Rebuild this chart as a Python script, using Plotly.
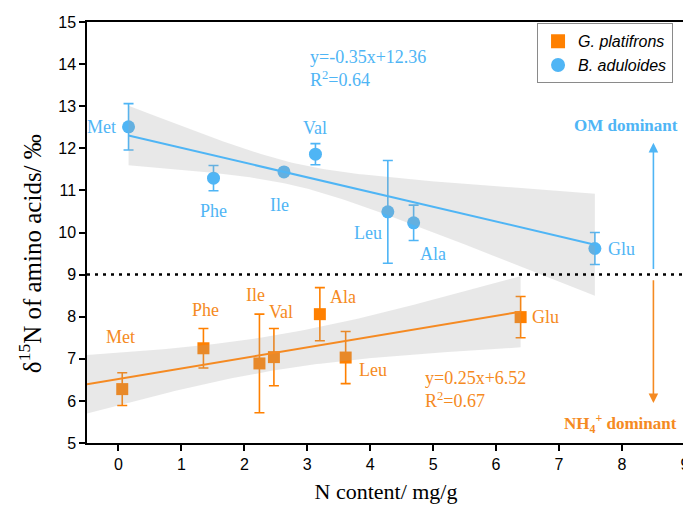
import numpy as np
import plotly.graph_objects as go

# ---------------- data ----------------
amino = ["Met", "Phe", "Ile", "Val", "Leu", "Ala", "Glu"]

# B. aduloides
ba_x = [0.16, 1.51, 2.63, 3.13, 4.28, 4.69, 7.57]
ba_y = [12.51, 11.29, 11.44, 11.86, 10.49, 10.23, 9.62]
ba_err = [0.55, 0.30, 0.08, 0.25, 1.22, 0.42, 0.38]
ba_slope, ba_icpt = -0.35, 12.36
ba_eq = "y=-0.35x+12.36<br>R<sup>2</sup>=0.64"

# G. platifrons
gp_x = [0.06, 1.35, 2.24, 2.47, 3.61, 3.20, 6.39]
gp_y = [6.28, 7.25, 6.89, 7.04, 7.03, 8.06, 7.99]
gp_err = [0.39, 0.47, 1.17, 0.68, 0.62, 0.63, 0.49]
gp_slope, gp_icpt = 0.25, 6.52
gp_eq = "y=0.25x+6.52<br>R<sup>2</sup>=0.67"

x_ticks = list(range(0, 10))
y_ticks = list(range(5, 16))

# ---------------- styles ----------------
BLUE = "#4FB5F5"
ORANGE = "#FF8000"
ORANGE_T = "#F58A22"
SERIF = "Liberation Serif"
SANS = "Liberation Sans"
BAND = "rgba(165,165,165,0.25)"

# label pixel offsets (dx, dy up)
ba_off = {"Met": (-27, 0), "Phe": (0, -33), "Ile": (-4, -33), "Val": (0, 26),
          "Leu": (-20, -21), "Ala": (19, -31), "Glu": (27, 0)}
gp_off = {"Met": (-2, 52), "Phe": (2, 38), "Ile": (-4, 68), "Val": (7, 45),
          "Leu": (27, -12), "Ala": (23, 17), "Glu": (25, 0)}


def conf_band(x, y, err, slope, icpt, xs, t=2.5706):
    x = np.asarray(x, float)
    y = np.asarray(y, float)
    w = 1.0 / np.asarray(err, float) ** 2
    xw = (w * x).sum() / w.sum()
    sxx = (w * (x - xw) ** 2).sum()
    r = y - (slope * x + icpt)
    s2 = (w * r ** 2).sum() / (len(x) - 2)
    hw = t * np.sqrt(s2 * (1.0 / w.sum() + (xs - xw) ** 2 / sxx))
    yc = slope * xs + icpt
    return yc, yc - hw, yc + hw


fig = go.Figure()

series = [
    ("G. platifrons", gp_x, gp_y, gp_err, gp_slope, gp_icpt, ORANGE, "square", 12,
     (-0.5, max(gp_x))),
    ("B. aduloides", ba_x, ba_y, ba_err, ba_slope, ba_icpt, BLUE, "circle", 13,
     (min(ba_x), max(ba_x))),
]

# markers with error bars
for name, xs_, ys_, es_, sl, ic, col, sym, sz, rng in series:
    fig.add_trace(go.Scatter(
        x=xs_, y=ys_, mode="markers", showlegend=False,
        marker=dict(color=col, symbol=sym, size=sz, line=dict(width=0)),
        error_y=dict(type="data", array=es_, visible=True, color=col,
                     thickness=1.6, width=5)))

# confidence bands (on top of markers, semi-transparent)
for name, xs_, ys_, es_, sl, ic, col, sym, sz, rng in series:
    xg = np.linspace(rng[0], rng[1], 120)
    yc, lo, hi = conf_band(xs_, ys_, es_, sl, ic, xg)
    fig.add_trace(go.Scatter(
        x=np.concatenate([xg, xg[::-1]]), y=np.concatenate([lo, hi[::-1]]),
        fill="toself", fillcolor=BAND, line=dict(width=0), mode="lines",
        hoverinfo="skip", showlegend=False))

# fit lines
for name, xs_, ys_, es_, sl, ic, col, sym, sz, rng in series:
    xl = np.array(rng)
    fig.add_trace(go.Scatter(
        x=xl, y=sl * xl + ic, mode="lines", showlegend=False,
        line=dict(color=col if col == BLUE else ORANGE_T, width=2)))

# legend entries
for name, xs_, ys_, es_, sl, ic, col, sym, sz, rng in series:
    fig.add_trace(go.Scatter(
        x=[None], y=[None], mode="markers", name=f"<i>{name}</i>",
        marker=dict(color=col, symbol=sym, size=14)))

ann = []
for lab, xv, yv in zip(amino, ba_x, ba_y):
    dx, dy = ba_off[lab]
    ann.append(dict(x=xv, y=yv, text=lab, showarrow=False, xshift=dx, yshift=dy,
                    font=dict(family=SERIF, size=18, color=BLUE)))
for lab, xv, yv in zip(amino, gp_x, gp_y):
    dx, dy = gp_off[lab]
    ann.append(dict(x=xv, y=yv, text=lab, showarrow=False, xshift=dx, yshift=dy,
                    font=dict(family=SERIF, size=18, color=ORANGE_T)))

ann.append(dict(x=3.01, y=13.9, text=ba_eq, showarrow=False, xanchor="left",
                align="left", font=dict(family=SERIF, size=18, color=BLUE)))
ann.append(dict(x=4.84, y=6.26, text=gp_eq, showarrow=False, xanchor="left",
                align="left", font=dict(family=SERIF, size=18, color=ORANGE_T)))

# dominance arrows and texts
ann.append(dict(x=8.5, y=12.13, ax=8.5, ay=9.1, axref="x", ayref="y",
                showarrow=True, arrowhead=2, arrowsize=1.2, arrowwidth=1.6,
                arrowcolor=BLUE, text=""))
ann.append(dict(x=8.5, y=5.95, ax=8.5, ay=8.9, axref="x", ayref="y",
                showarrow=True, arrowhead=2, arrowsize=1.2, arrowwidth=1.6,
                arrowcolor=ORANGE_T, text=""))
ann.append(dict(x=8.06, y=12.53, text="<b>OM dominant</b>", showarrow=False,
                font=dict(family=SERIF, size=17, color=BLUE)))
ann.append(dict(x=7.98, y=5.47, text="<b>NH<sub>4</sub><sup>+</sup> dominant</b>",
                showarrow=False, font=dict(family=SERIF, size=17, color=ORANGE_T)))

# y-axis title as rotated annotation (positioned like the reference)
ann.append(dict(xref="paper", yref="paper", x=-0.096, y=0.45, textangle=-90,
                text="δ<sup>15</sup>N of amino acids/ ‰", showarrow=False,
                xanchor="center", yanchor="middle",
                font=dict(family=SERIF, size=25, color="black")))

# page body has an 8px margin: figure is offset (8, 8) in the window
fig.update_layout(
    width=683, height=503,
    margin=dict(l=79, r=6, t=14, b=68),
    plot_bgcolor="white", paper_bgcolor="white",
    font=dict(family=SERIF, color="black"),
    annotations=ann,
    shapes=[dict(type="line", xref="paper", x0=0, x1=1, yref="y", y0=9, y1=9,
                 line=dict(color="black", width=2.5, dash="3px,5px"))],
    legend=dict(x=0.98, y=0.997, xanchor="right", yanchor="top",
                bgcolor="white", bordercolor="#8a8a8a", borderwidth=1,
                font=dict(family=SANS, size=16, color="black"),
                traceorder="normal"),
    xaxis=dict(range=[-0.5, 9.002], tickvals=x_ticks, ticks="outside", ticklen=6,
               tickwidth=1.5, tickcolor="black", showline=True, linewidth=1.5,
               linecolor="black", mirror=True, showgrid=False, zeroline=False,
               automargin=False,
               tickfont=dict(family=SANS, size=16, color="black"),
               title=dict(text="N content/ mg/g", standoff=12,
                          font=dict(family=SERIF, size=22, color="black"))),
    yaxis=dict(range=[5, 15], tickvals=y_ticks, ticks="outside", ticklen=6,
               tickwidth=1.5, tickcolor="black", showline=True, linewidth=1.5,
               linecolor="black", mirror=True, showgrid=False, zeroline=False,
               automargin=False,
               tickfont=dict(family=SANS, size=16, color="black")),
)

fig.write_html("out.html")
